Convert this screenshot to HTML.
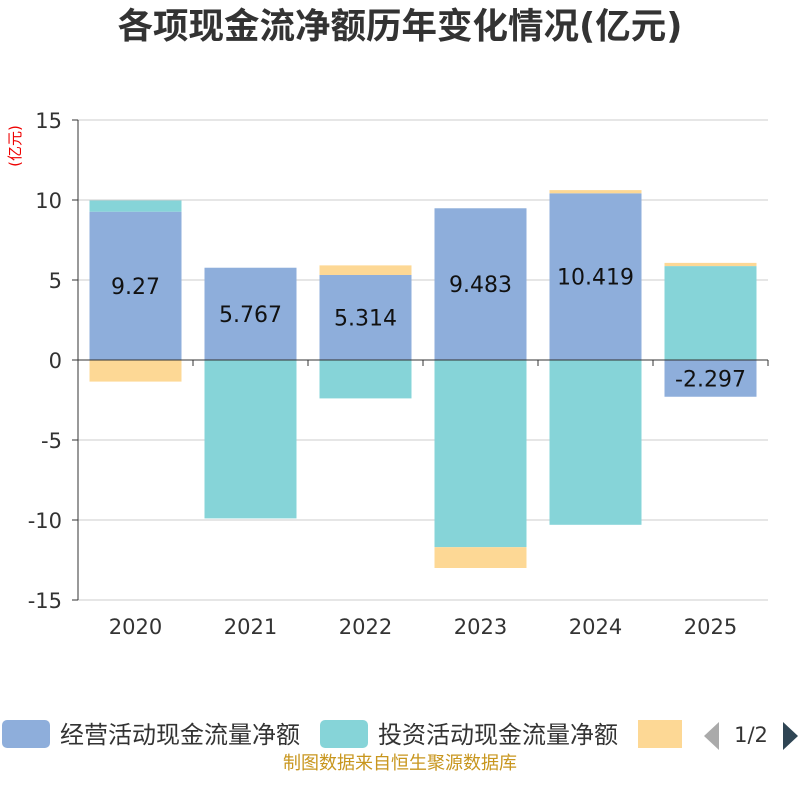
<!DOCTYPE html>
<html><head><meta charset="utf-8"><style>
body{margin:0;width:800px;height:800px;background:#fff;font-family:"DejaVu Sans","Noto Sans CJK SC",sans-serif;overflow:hidden}
text{font-family:"DejaVu Sans","Noto Sans CJK SC",sans-serif}
</style></head><body>
<svg id="c" width="800" height="800" xmlns="http://www.w3.org/2000/svg">
<text x="400" y="38" text-anchor="middle" font-size="35.5" font-weight="bold" fill="#333">各项现金流净额历年变化情况(亿元)</text>
<text x="20" y="146" text-anchor="middle" font-size="15" fill="#e00" transform="rotate(-90 20 146)">(亿元)</text>
<g id="grid"></g><g id="bars"></g><g id="axes"></g>
<g>
<rect x="2" y="720" width="48" height="28" rx="5" fill="#8eaedb"/>
<text x="60" y="743" font-size="24" fill="#333">经营活动现金流量净额</text>
<rect x="320" y="720" width="48" height="28" rx="5" fill="#86d4d8"/>
<text x="378" y="743" font-size="24" fill="#333">投资活动现金流量净额</text>
<rect x="638" y="720" width="44" height="28" fill="#fdd895"/>
<polygon points="719,722 719,750 704,736" fill="#aaa"/>
<text x="751" y="742" text-anchor="middle" font-size="21" fill="#333">1/2</text>
<polygon points="783,722 783,750 798,736" fill="#2f4554"/>
</g>
<text x="400" y="769" text-anchor="middle" font-size="18" fill="#c8961e">制图数据来自恒生聚源数据库</text>
</svg>
<script>
const categories=["2020","2021","2022","2023","2024","2025"];
const operating=[9.27,5.767,5.314,9.483,10.419,-2.297];
const investing=[0.7,-9.9,-2.4,-11.7,-10.3,5.87];
const financing=[-1.35,0,0.6,-1.3,0.2,0.2];
const yTicks=[15,10,5,0,-5,-10,-15];
const NS="http://www.w3.org/2000/svg";
const x0=78,x1=768,y0=120,y1=600;
const y=v=>360-v*16;
const band=(x1-x0)/categories.length;
const cx=i=>x0+band*(i+0.5);
function mk(t,a,p){const e=document.createElementNS(NS,t);for(const k in a)e.setAttribute(k,a[k]);(p||document.getElementById('c')).appendChild(e);return e;}
const grid=document.getElementById('grid'),bars=document.getElementById('bars'),axes=document.getElementById('axes');
yTicks.forEach(t=>{
 const l=mk('line',{x1:x0,x2:x1,y1:y(t),y2:y(t),stroke:'#ccc','stroke-width':1},grid);
 
 
 const tx=mk('text',{x:x0-16,y:y(t)+8,'text-anchor':'end','font-size':21,fill:'#333'},axes);
 tx.textContent=t;
 
 
});
mk('line',{x1:x0,x2:x0,y1:y0,y2:y1,stroke:'#333'},axes);
const za=mk('line',{x1:x0,x2:x1,y1:y(0),y2:y(0),stroke:'#333'},axes);


yTicks.forEach(t=>mk('line',{x1:x0-6,x2:x0,y1:y(t),y2:y(t),stroke:'#333'},axes));
const series=[[operating,'#8eaedb','operating'],[investing,'#86d4d8','investing'],[financing,'#fdd895','financing']];
const bw=92;
categories.forEach((c,i)=>{
 let pos=0,neg=0;
 series.forEach(([arr,col,nm])=>{
  const v=arr[i];if(!v)return;
  let a,b;if(v>=0){a=pos;b=pos+v;pos=b;}else{a=neg;b=neg+v;neg=b;}
  const top=Math.min(y(a),y(b)),h=Math.abs(y(a)-y(b));
  const r=mk('rect',{x:cx(i)-bw/2,y:top,width:bw,height:h,fill:col},bars);
  
  
  if(nm==='operating'){
   const t=mk('text',{x:cx(i),y:top+h/2+8,'text-anchor':'middle','font-size':22,fill:'#111'},bars);
   t.textContent=v;
   
   
  }
 });
 mk('line',{x1:x0+band*(i+1),x2:x0+band*(i+1),y1:y(0),y2:y(0)+6,stroke:'#333'},axes);
 const t=mk('text',{x:cx(i),y:634,'text-anchor':'middle','font-size':21,fill:'#333'},axes);
 t.textContent=c;
 
 
});
</script>
</body></html>
